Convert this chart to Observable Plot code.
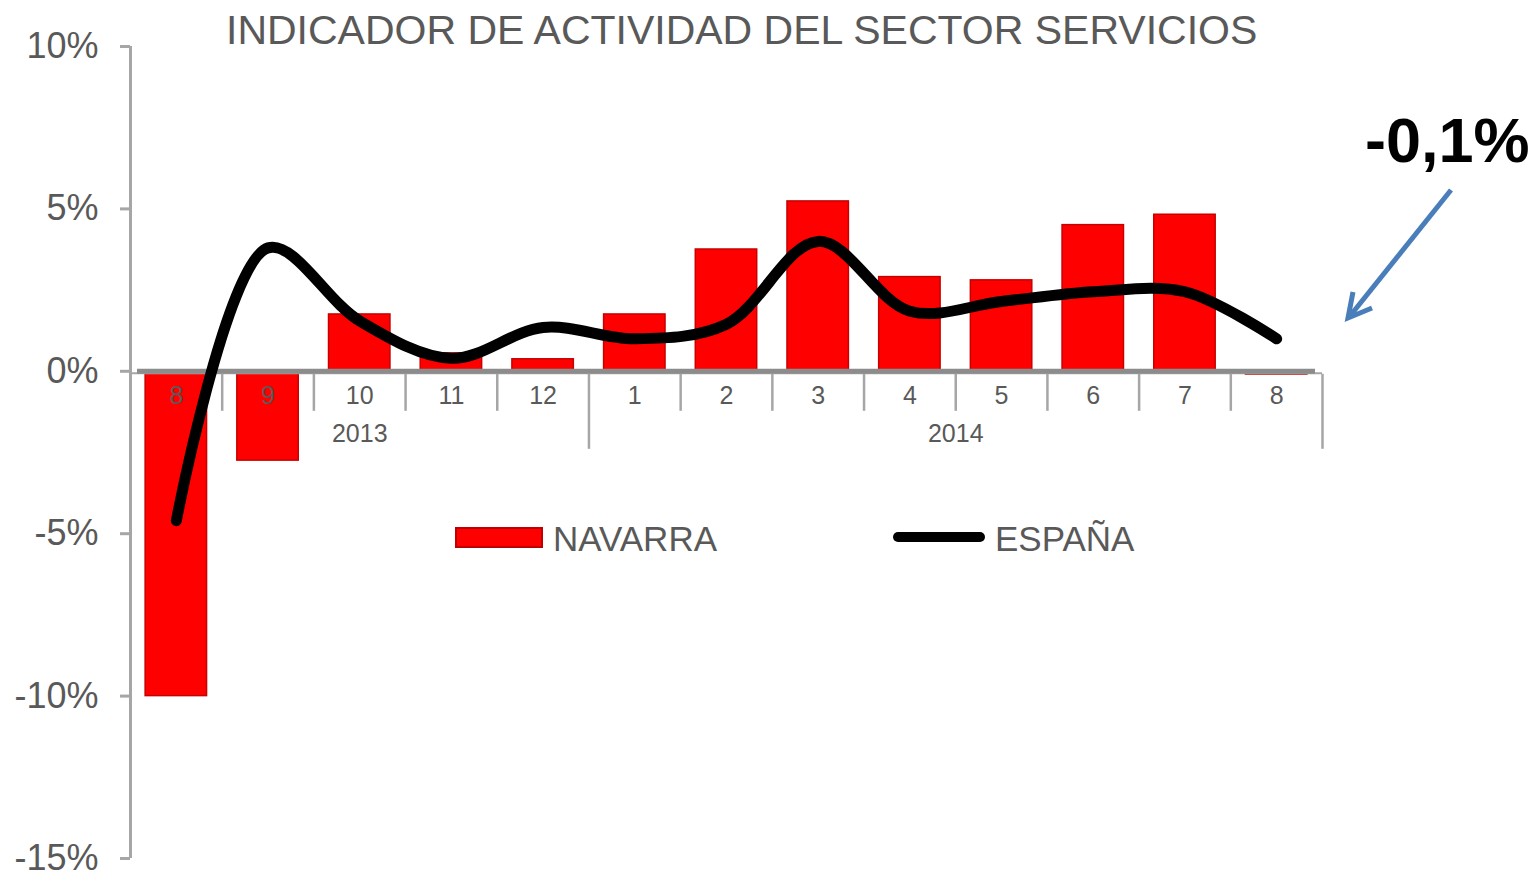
<!DOCTYPE html>
<html><head><meta charset="utf-8">
<script src="https://cdn.jsdelivr.net/npm/d3@7"></script>
<script src="https://cdn.jsdelivr.net/npm/@observablehq/plot@0.6"></script>
<style>
html,body{margin:0;padding:0;background:#fff;}
#wrap{position:relative;width:1538px;height:876px;font-family:"Liberation Sans",Arial,sans-serif;overflow:hidden;}
#chart{position:absolute;left:0;top:0;}
.abs{position:absolute;line-height:1;white-space:nowrap;}
#title{left:226px;top:10px;font-size:41px;color:#595959;}
.legtxt{font-size:35px;color:#595959;top:521px;}
#ann{left:1365px;top:109px;font-size:63px;font-weight:bold;color:#000;}
</style></head>
<body><div id="wrap">
<div id="chart"></div>
<div id="title" class="abs">INDICADOR DE ACTIVIDAD DEL SECTOR SERVICIOS</div>
<div class="abs" style="left:455px;top:527px;width:88px;height:21px;background:#ff0000;border:2px solid #c00000;box-sizing:border-box;"></div>
<div class="abs legtxt" style="left:553px;">NAVARRA</div>
<div class="abs" style="left:893px;top:532px;width:92px;height:10px;background:#000;border-radius:5px;"></div>
<div class="abs legtxt" style="left:995px;">ESPAÑA</div>
<div id="ann" class="abs">-0,1%</div>
<svg class="abs" style="left:0;top:0;pointer-events:none;" width="1538" height="876">
  <g stroke="#4a7ebb" stroke-width="5" fill="none" stroke-linecap="butt">
    <line x1="1451" y1="190" x2="1350" y2="316"/>
    <polyline points="1353,292 1348,318 1372,308"/>
  </g>
</svg>
</div>
<script>
const months = ["8","9","10","11","12","1","2","3","4","5","6","7","8"];
const yearOf = ["2013","2013","2013","2013","2013","2014","2014","2014","2014","2014","2014","2014","2014"];
const navarra = [-10.0, -2.75, 1.75, 0.55, 0.37, 1.75, 3.75, 5.23, 2.9, 2.8, 4.5, 4.82, -0.1];
const espana = [-4.6, 3.8, 1.55, 0.4, 1.35, 1.0, 1.45, 4.0, 1.85, 2.15, 2.45, 2.45, 1.0];
const yTicks = [-15, -10, -5, 0, 5, 10];
const yearLabels = ["2013", "2014"];

const data = months.map((m, i) => ({i, month: m, year: yearOf[i], navarra: navarra[i], espana: espana[i]}));
const yearGroups = yearLabels.map(y => {
  const idx = data.filter(d => d.year === y).map(d => d.i);
  return {year: y, first: d3.min(idx), last: d3.max(idx)};
});
const shortSeps = data.slice(0, -1).filter((d, k) => data[k + 1].year === d.year).map(d => d.i + 0.5);
const longSeps = yearGroups.slice(0, -1).map(g => g.last + 0.5).concat([data.length - 0.5]);

const gray = "#a6a6a6";
const chart = Plot.plot({
  width: 1538, height: 876,
  marginLeft: 130, marginRight: 216, marginTop: 46, marginBottom: 18,
  x: {type: "linear", domain: [-0.5, data.length - 0.5], axis: null},
  y: {domain: [-15, 10]},
  style: {fontFamily: '"Liberation Sans", Arial, sans-serif', background: "transparent", color: "#595959", overflow: "visible"},
  marks: [
    Plot.rect(data, {x1: d => d.i - 0.335, x2: d => d.i + 0.335, y1: 0, y2: "navarra", fill: "#ff0000", stroke: "#c80000", strokeWidth: 1.5}),
    Plot.ruleX([-0.5], {stroke: gray, strokeWidth: 3}),
    Plot.axisY({ticks: yTicks, tickFormat: d => d + "%", tickSize: 10, tickPadding: 22, fontSize: 36, stroke: gray, strokeWidth: 3, label: null, anchor: "left"}),
    Plot.ruleY([0], {stroke: gray, strokeWidth: 2, dy: 2}),
    Plot.ruleY([0], {stroke: "#8c8c8c", strokeWidth: 5, insetLeft: 7, insetRight: 7}),
    Plot.ruleX(shortSeps, {x: d => d, y1: 0, y2: 0, insetTop: 3, insetBottom: -40, stroke: gray, strokeWidth: 2.5}),
    Plot.ruleX(longSeps, {x: d => d, y1: 0, y2: 0, insetTop: 3, insetBottom: -78, stroke: gray, strokeWidth: 2.5}),
    Plot.text(data, {x: "i", y: 0, text: "month", dy: 25, fontSize: 25, fill: "#595959"}),
    Plot.text(yearGroups, {x: d => (d.first + d.last) / 2, y: 0, text: "year", dy: 63, fontSize: 25, fill: "#595959"}),
    Plot.line(data, {x: "i", y: "espana", stroke: "#000", strokeWidth: 11, curve: "catmull-rom", strokeLinecap: "round", strokeLinejoin: "round"})
  ]
});
document.getElementById("chart").appendChild(chart);
</script>
</body></html>
